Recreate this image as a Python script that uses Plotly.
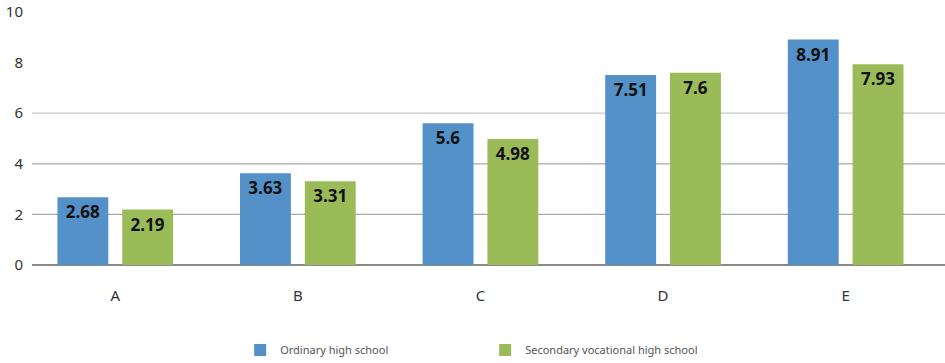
import plotly.graph_objects as go

categories = ["A", "B", "C", "D", "E"]
ordinary = [2.68, 3.63, 5.6, 7.51, 8.91]
vocational = [2.19, 3.31, 4.98, 7.6, 7.93]
series_names = ["Ordinary high school", "Secondary vocational high school"]
colors = ["#5591C9", "#9BBB59"]
grid_levels = [2, 4, 6]
grid_colors = ["#A8A8A8", "#A8A8A8", "#C8C8C8"]

fig = go.Figure()
for name, vals, col in zip(series_names, [ordinary, vocational], colors):
    fig.add_trace(go.Bar(
        x=categories, y=vals, name=name,
        marker=dict(color=col, line=dict(width=0)),
        text=[str(v) for v in vals],
        textposition="inside", insidetextanchor="end",
        textangle=0,
        textfont=dict(family="Open Sans", size=17, color="#111", weight="bold"),
        constraintext="none",
    ))

for lvl, gc in zip(grid_levels, grid_colors):
    fig.add_hline(y=lvl, line=dict(color=gc, width=1.3), layer="below")

fig.update_layout(
    width=945, height=363,
    margin=dict(l=32, r=0, t=12, b=98, autoexpand=False),
    paper_bgcolor="white", plot_bgcolor="white",
    barmode="group", bargap=0.29, bargroupgap=0.215,
    font=dict(family="Noto Sans", color="#333"),
    showlegend=True,
    legend=dict(orientation="h", x=0.228, xanchor="left", y=-0.336, yanchor="middle",
                font=dict(size=11, color="#555"), entrywidth=200, itemwidth=30),
    xaxis=dict(showgrid=False, tickfont=dict(size=15, color="#333"), ticks="",
               showline=False, automargin=False, ticklabelstandoff=20,
               range=[-0.456, 4.544]),
    yaxis=dict(range=[0, 10], dtick=2, showgrid=False,
               zeroline=True, zerolinecolor="#8A8A8A", zerolinewidth=1.6,
               tickfont=dict(size=15, color="#333"), ticks="", ticklabelstandoff=8,
               automargin=False, ticklabeloverflow="allow"),
)

fig.write_html("out.html", config={"displayModeBar": False},
               post_script="document.body.style.margin='0';document.body.style.overflow='hidden';")
